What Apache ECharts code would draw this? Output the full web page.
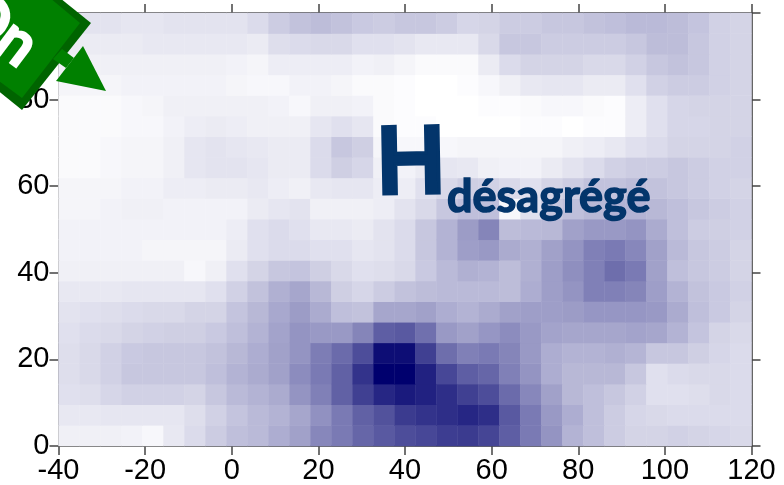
<!DOCTYPE html>
<html><head><meta charset="utf-8">
<style>html,body{margin:0;padding:0;background:#fff}#c{width:784px;height:485px}</style>
<script src="https://cdn.jsdelivr.net/npm/echarts@6/dist/echarts.min.js"></script>
</head><body><div id="c"></div>
<script>
const xCells=['c-40','c-35','c-30','c-25','c-20','c-15','c-10','c-5','c0','c5','c10','c15','c20','c25','c30','c35','c40','c45','c50','c55','c60','c65','c70','c75','c80','c85','c90','c95','c100','c105','c110','c115','c120'];
const yCells=['r0','r5','r10','r15','r20','r25','r30','r35','r40','r45','r50','r55','r60','r65','r70','r75','r80','r85','r90','r95','r100'];
const r100=[10,11,11,10,10,11,11,11,11,14,20,24,26,24,21,20,22,22,20,16,17,20,20,22,22,24,25,27,27,26,23,18,17];
const r95=[8,8,8,8,9,9,9,9,9,8,13,14,15,15,12,12,11,9,9,9,15,22,22,20,20,20,20,22,26,26,22,18,17];
const r90=[6,6,6,6,6,6,6,6,5,4,7,7,7,7,5,6,4,2,2,2,8,14,17,17,17,15,15,18,22,24,22,18,17];
const r85=[4,4,4,5,5,5,5,5,4,3,3,5,5,4,2,2,1,0,0,1,3,6,9,10,10,8,8,12,18,20,20,18,17];
const r80=[2,2,2,3,4,6,6,6,6,6,5,3,6,6,5,2,1,0,0,0,1,1,2,3,3,2,1,7,12,16,17,17,17];
const r75=[2,2,2,3,3,5,7,8,7,6,6,6,10,12,10,2,1,1,0,0,0,0,1,1,0,1,1,7,12,16,16,17,17];
const r70=[2,2,3,4,4,6,10,11,10,9,8,8,14,22,19,4,3,3,3,4,4,4,4,4,6,7,9,12,14,17,17,17,18];
const r65=[2,2,3,4,4,6,10,11,11,10,8,8,14,19,16,6,5,8,10,9,6,5,5,8,11,14,18,20,20,22,20,18,18];
const r60=[4,4,4,5,5,7,7,8,8,9,7,6,9,10,10,7,7,12,15,19,18,15,12,17,20,24,24,26,24,22,20,18,17];
const r55=[4,4,5,6,6,5,5,5,5,8,10,11,6,6,6,7,11,15,22,25,25,3,12,22,25,28,30,30,28,25,22,20,18];
const r50=[5,5,5,5,5,5,5,5,7,12,14,12,9,9,8,11,14,22,30,39,48,26,27,28,37,40,40,42,33,25,20,19,18];
const r45=[5,5,5,5,4,4,4,4,8,12,14,14,12,12,10,11,14,22,30,38,40,33,31,37,42,50,52,47,37,27,22,20,17];
const r40=[6,6,6,6,6,6,3,6,12,17,22,23,19,15,12,13,15,21,27,31,30,26,31,38,44,50,57,52,37,25,22,20,17];
const r35=[9,9,9,10,10,10,10,12,18,24,31,35,28,19,16,20,24,26,27,27,27,26,32,38,42,50,50,48,38,30,24,21,18];
const r30=[11,12,13,14,15,15,17,17,23,28,34,39,33,25,24,35,35,37,32,30,33,37,38,38,39,41,41,41,40,33,25,21,17];
const r25=[12,14,15,17,18,19,19,21,25,30,36,42,40,40,48,63,65,56,40,37,41,45,40,36,35,35,35,36,35,30,23,17,15];
const r20=[13,15,18,21,22,22,22,24,28,32,37,42,51,58,70,95,95,75,57,50,52,48,40,32,30,30,31,29,22,22,19,16,14];
const r15=[13,15,18,22,22,22,22,25,30,33,37,45,52,62,80,100,100,87,72,63,60,50,42,32,28,28,28,22,12,14,15,15,14];
const r10=[12,13,16,18,18,18,17,22,27,30,33,42,50,62,75,85,90,87,82,75,70,58,47,37,28,25,22,18,12,12,13,15,14];
const r5=[9,9,10,10,10,10,13,18,23,27,30,35,43,52,62,68,77,80,82,85,82,65,52,40,32,25,20,16,15,14,14,14,14];
const r0=[6,6,6,5,3,9,14,20,25,27,32,37,47,52,60,65,70,72,76,77,73,63,52,42,30,25,20,17,17,18,17,16,15];
const rowsBottomUp=[r0,r5,r10,r15,r20,r25,r30,r35,r40,r45,r50,r55,r60,r65,r70,r75,r80,r85,r90,r95,r100];
const xTicks=[-40,120,20];
const yTicks=[0,100,20];
const titleMain='H';
const titleSub='désagrégé';
const badgeText='On';

const cells=[];
rowsBottomUp.forEach((row,j)=>row.forEach((v,i)=>cells.push([i,j,v])));

const labelStyle={fontFamily:'"Liberation Sans",Arial,sans-serif',fontSize:29,color:'#000'};
const lineStyle={color:'#333',width:1.5};
const tickStyle={show:true,inside:false,length:9,lineStyle:{color:'#444',width:1.5}};
function valAxis(pos,min,max,step,labels){
  return {type:'value',position:pos,min:min,max:max,interval:step,splitLine:{show:false},
    axisLine:{show:true,onZero:false,lineStyle:lineStyle},axisTick:tickStyle,
    axisLabel:{show:labels,margin:labels?(pos==='bottom'?10:9):0,showMinLabel:true,showMaxLabel:true,hideOverlap:false,...labelStyle}};
}
const chart=echarts.init(document.getElementById('c'),null,{renderer:'canvas'});
chart.setOption({
  animation:false,backgroundColor:'#fff',
  grid:{left:58.5,right:32.5,top:13,bottom:39,containLabel:false,outerBoundsMode:'none'},
  xAxis:[
    {type:'category',data:xCells,show:false},
    valAxis('bottom',xTicks[0],xTicks[1],xTicks[2],true),
    valAxis('top',xTicks[0],xTicks[1],xTicks[2],false)
  ],
  yAxis:[
    {type:'category',data:yCells,show:false},
    valAxis('left',yTicks[0],yTicks[1],yTicks[2],true),
    valAxis('right',yTicks[0],yTicks[1],yTicks[2],false)
  ],
  visualMap:{show:false,min:0,max:100,dimension:2,inRange:{color:['#ffffff','#00006e']}},
  series:[{type:'heatmap',data:cells,xAxisIndex:0,yAxisIndex:0,progressive:0,z:1,itemStyle:{borderWidth:0}}],
  graphic:[
    {type:'polygon',z:100,zlevel:1,shape:{points:[[91,23],[50,-10],[-40,-10],[-40,60],[22,110]]},style:{fill:'#006400'}},
    {type:'polygon',z:101,zlevel:1,shape:{points:[[80,23],[50,-2],[-40,-2],[-40,52],[22,98]]},style:{fill:'#008000'}},
    {type:'polygon',z:100,zlevel:1,shape:{points:[[62,49],[74,58],[66,68],[53,59]]},style:{fill:'#008000'}},
    {type:'polygon',z:100,zlevel:1,shape:{points:[[83,46],[106,91],[56,81]]},style:{fill:'#008000'}},
    {type:'text',z:102,zlevel:1,x:-34,y:4,rotation:-37*Math.PI/180,
      style:{text:badgeText,fill:'#fff',stroke:'#fff',lineWidth:4,lineJoin:'round',font:'60px Lato,sans-serif',textAlign:'left',textVerticalAlign:'middle'}},
    {type:'text',z:50,x:411,y:166,rotation:1*Math.PI/180,
      style:{text:titleMain,fill:'#03356b',stroke:'#03356b',lineWidth:7,lineJoin:'round',font:'92px "Liberation Sans",sans-serif',textAlign:'center',textVerticalAlign:'middle'}},
    {type:'text',z:50,x:447,y:197,
      style:{text:titleSub,fill:'#03356b',stroke:'#03356b',lineWidth:1.5,lineJoin:'round',font:'bold 45px Lato,sans-serif',textAlign:'left',textVerticalAlign:'middle'}}
  ]
});
</script></body></html>
